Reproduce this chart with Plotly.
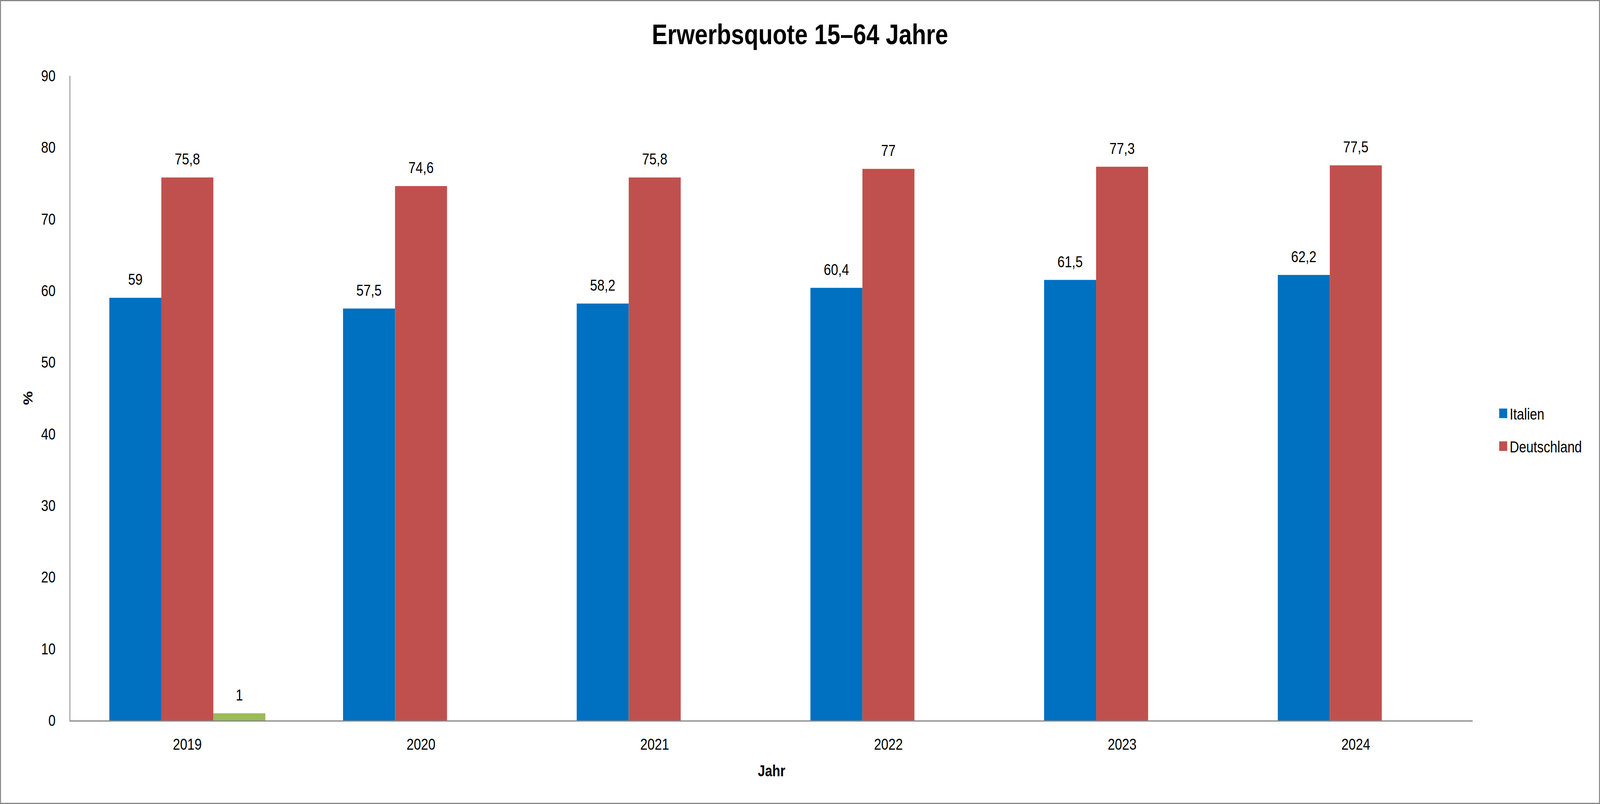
import plotly.graph_objects as go

# ---- data ----
years = ["2019", "2020", "2021", "2022", "2023", "2024"]
italien = [59, 57.5, 58.2, 60.4, 61.5, 62.2]
deutschland = [75.8, 74.6, 75.8, 77, 77.3, 77.5]
reihe3 = [1, None, None, None, None, None]

series_names = ["Italien", "Deutschland", "Reihe 3"]
series_colors = ["#0070C0", "#C0504D", "#9BBB59"]
series_in_legend = [True, True, False]

title_text = "Erwerbsquote 15–64 Jahre"
x_title = "Jahr"
y_title = "%"


def de(v):
    return "" if v is None else f"{v:g}".replace(".", ",")


# ---- geometry (designed for a 4925 x 2058 page) ----
W, H = 4925, 2058
ML, MR, MT, MB = 217, 392, 194, 214
PW, PH = W - ML - MR, H - MT - MB
FONT = "Liberation Sans, Arial, sans-serif"
AXIS_GRAY = "#868686"
FS = 40
GAP = 0.3324

fig = go.Figure()
all_vals = [italien, deutschland, reihe3]
for name, vals, color, leg in zip(series_names, all_vals, series_colors, series_in_legend):
    fig.add_trace(go.Bar(
        x=years, y=vals, name=name,
        marker=dict(color=color, line=dict(width=0)),
        showlegend=leg, legendgroup=name,
    ))
# value labels, grouped exactly like the bars
for name, vals in zip(series_names, all_vals):
    fig.add_trace(go.Scatter(
        x=years, y=vals, mode="markers+text", name=name + " Werte",
        text=[de(v) for v in vals], textposition="top center",
        textfont=dict(family=FONT, size=FS, color="black"),
        marker=dict(size=35, color="rgba(0,0,0,0)", line=dict(width=0)),
        showlegend=False, hoverinfo="skip", cliponaxis=False,
    ))

bw = 3
fig.update_layout(
    width=W, height=H,
    margin=dict(l=ML, r=MR, t=MT, b=MB, autoexpand=False),
    paper_bgcolor="white", plot_bgcolor="white",
    barmode="group", bargap=GAP, bargroupgap=0,
    scattermode="group", scattergap=GAP,
    separators=",.",
    font=dict(family=FONT, size=FS, color="black"),
    title=dict(text=f"<b>{title_text}</b>", x=0.5, xref="container", xanchor="center",
               y=1 - 88 / H, yref="container", yanchor="middle",
               font=dict(family=FONT, size=72, color="black")),
    legend=dict(x=(4607 - ML) / PW, xanchor="left", y=1 - (1100 - MT) / PH, yanchor="middle",
                font=dict(family=FONT, size=FS, color="black"),
                tracegroupgap=29, bgcolor="rgba(0,0,0,0)"),
    xaxis=dict(type="category", showline=True, linecolor=AXIS_GRAY, linewidth=3,
               showgrid=False, zeroline=False, ticks="", ticklabelstandoff=24,
               tickfont=dict(family=FONT, size=FS, color="black"),
               title=dict(text=f"<b>{x_title}</b>", standoff=34,
                          font=dict(family=FONT, size=FS, color="black"))),
    yaxis=dict(range=[0, 90], dtick=10, tick0=0, showline=True, linecolor=AXIS_GRAY,
               linewidth=3, showgrid=False, zeroline=False, ticks="", ticklabelstandoff=35,
               tickfont=dict(family=FONT, size=FS, color="black"),
               title=dict(text=f"<b>{y_title}</b>", standoff=14,
                          font=dict(family=FONT, size=FS, color="black"))),
    shapes=[dict(type="rect", xref="paper", yref="paper",
                 x0=(-ML + bw / 2) / PW, x1=(W - ML - bw / 2) / PW,
                 y0=(-MB + bw / 2) / PH, y1=(H - MB - bw / 2) / PH,
                 line=dict(color=AXIS_GRAY, width=bw), fillcolor="rgba(0,0,0,0)",
                 layer="below")],
)

# fit the 4925 x 2058 figure into whatever viewport the page gets,
# and draw the legend keys at the reference's size
post = """
document.documentElement.style.overflow='hidden';
document.body.style.margin='0';
document.body.style.overflow='hidden';
var gd=document.getElementById('{plot_id}');
function fitAndStyle(){
  var sx=window.innerWidth/%d, sy=window.innerHeight/%d;
  gd.style.transformOrigin='0 0';
  gd.style.transform='scale('+sx+','+sy+')';
  try {
    gd.querySelectorAll('g.legendpoints path').forEach(function(p){
      var t=(p.getAttribute('transform')||'').replace(/ ?scale\\([^)]*\\)/,'');
      p.setAttribute('transform', t+' scale(2.05)');
    });
  } catch(e) {}
}
fitAndStyle();
setTimeout(fitAndStyle, 300);
if (gd.on) { gd.on('plotly_afterplot', fitAndStyle); }
""" % (W, H)

fig.write_html("out.html", config={"staticPlot": True, "displayModeBar": False},
               post_script=post)
